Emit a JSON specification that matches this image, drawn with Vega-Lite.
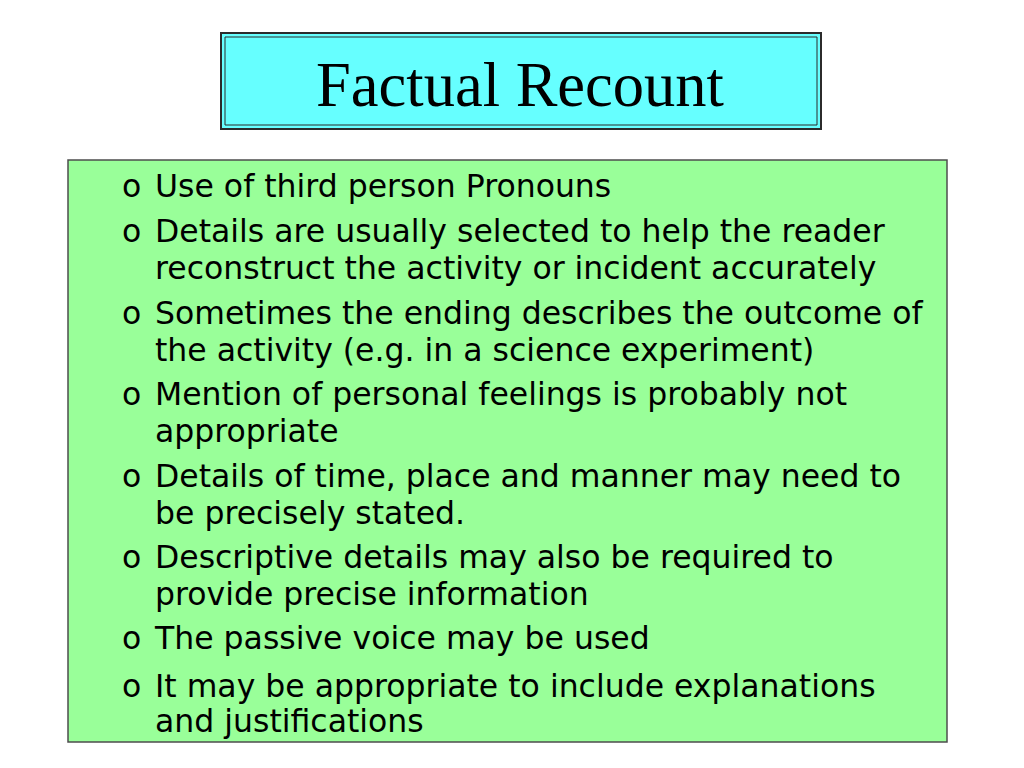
{
  "$schema": "https://vega.github.io/schema/vega-lite/v6.json",
  "width": 1024,
  "height": 768,
  "autosize": {"type": "fit", "contains": "padding"},
  "padding": 0,
  "background": "#ffffff",
  "view": {"stroke": null},
  "datasets": {
    "titlebox": [{"x": 221, "x2": 821, "y": 33, "y2": 129}],
    "titleinner": [{"x": 225, "x2": 817, "y": 37, "y2": 125}],
    "bodybox": [{"x": 68, "x2": 947, "y": 160, "y2": 742}],
    "title": [{"x": 520, "y": 106, "text": "Factual Recount"}],
    "bullets": [
      {"y": 197}, {"y": 242}, {"y": 324}, {"y": 405}, {"y": 487},
      {"y": 568}, {"y": 649}, {"y": 697}
    ],
    "lines": [
      {"y": 197, "text": "Use of third person Pronouns"},
      {"y": 242, "text": "Details are usually selected to help the reader"},
      {"y": 279, "text": "reconstruct the activity or incident accurately"},
      {"y": 324, "text": "Sometimes the ending describes the outcome of"},
      {"y": 361, "text": "the activity (e.g. in a science experiment)"},
      {"y": 405, "text": "Mention of personal feelings is probably not"},
      {"y": 442, "text": "appropriate"},
      {"y": 487, "text": "Details of time, place  and manner may need to"},
      {"y": 524, "text": "be precisely stated."},
      {"y": 568, "text": "Descriptive details may also be required to"},
      {"y": 605, "text": "provide precise information"},
      {"y": 649, "text": "The passive voice may be used"},
      {"y": 697, "text": "It may be appropriate to include explanations"},
      {"y": 732, "text": "and justifications"}
    ]
  },
  "layer": [
    {
      "data": {"name": "bodybox"},
      "mark": {"type": "rect", "fill": "#99FF99", "stroke": "#4d4d4d", "strokeWidth": 1.5},
      "encoding": {
        "x": {"field": "x", "type": "quantitative", "scale": {"domain": [0, 1024], "nice": false, "zero": false}, "axis": null},
        "x2": {"field": "x2"},
        "y": {"field": "y", "type": "quantitative", "scale": {"domain": [0, 768], "nice": false, "zero": false, "reverse": true}, "axis": null},
        "y2": {"field": "y2"}
      }
    },
    {
      "data": {"name": "titlebox"},
      "mark": {"type": "rect", "fill": "#66FFFF", "stroke": "#2b2b2b", "strokeWidth": 2},
      "encoding": {
        "x": {"field": "x", "type": "quantitative"},
        "x2": {"field": "x2"},
        "y": {"field": "y", "type": "quantitative"},
        "y2": {"field": "y2"}
      }
    },
    {
      "data": {"name": "titleinner"},
      "mark": {"type": "rect", "fill": null, "stroke": "#2b2b2b", "strokeWidth": 1},
      "encoding": {
        "x": {"field": "x", "type": "quantitative"},
        "x2": {"field": "x2"},
        "y": {"field": "y", "type": "quantitative"},
        "y2": {"field": "y2"}
      }
    },
    {
      "data": {"name": "title"},
      "mark": {"type": "text", "font": "Liberation Serif", "fontSize": 62.5, "align": "center", "baseline": "alphabetic", "color": "#000000"},
      "encoding": {
        "x": {"field": "x", "type": "quantitative"},
        "y": {"field": "y", "type": "quantitative"},
        "text": {"field": "text"}
      }
    },
    {
      "data": {"name": "bullets"},
      "mark": {"type": "text", "font": "DejaVu Sans", "fontSize": 31.5, "align": "left", "baseline": "alphabetic", "color": "#000000", "text": "o", "x": 122},
      "encoding": {
        "y": {"field": "y", "type": "quantitative"}
      }
    },
    {
      "data": {"name": "lines"},
      "mark": {"type": "text", "font": "DejaVu Sans", "fontSize": 31.5, "align": "left", "baseline": "alphabetic", "color": "#000000", "x": 155},
      "encoding": {
        "y": {"field": "y", "type": "quantitative"},
        "text": {"field": "text"}
      }
    }
  ]
}
